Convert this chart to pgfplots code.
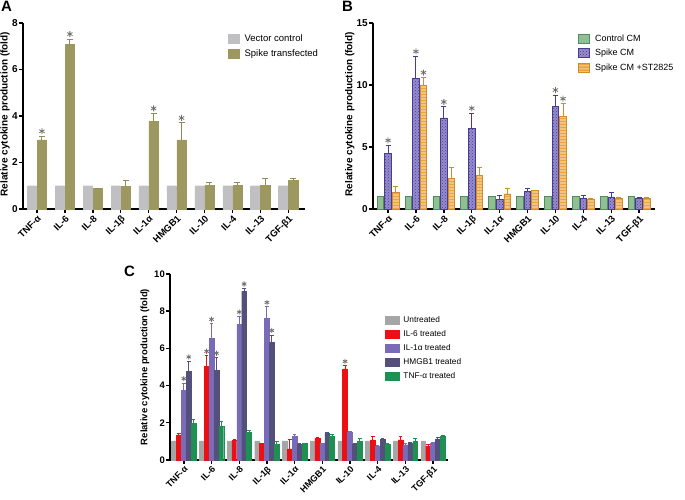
\documentclass[border=0pt]{standalone}
\usepackage{fontspec}
\setmainfont{Liberation Sans}
\usepackage{pgfplots}
\pgfplotsset{compat=1.18}
\usetikzlibrary{patterns,plotmarks}
\definecolor{vecgray}{RGB}{192,192,194}
\definecolor{olive1}{RGB}{157,152,95}
\definecolor{olived}{RGB}{145,140,85}
\definecolor{ctrlg}{RGB}{146,190,150}
\definecolor{ctrlgd}{RGB}{80,140,92}
\definecolor{purL}{RGB}{150,140,205}
\definecolor{purD}{RGB}{72,60,145}
\definecolor{orgF}{RGB}{236,165,62}
\definecolor{orgD}{RGB}{212,140,43}
\definecolor{cgray}{RGB}{166,166,166}
\definecolor{cred}{RGB}{236,16,20}
\definecolor{cpur}{RGB}{122,107,184}
\definecolor{cdark}{RGB}{84,80,124}
\definecolor{cgreen}{RGB}{30,145,82}
\definecolor{stargray}{RGB}{110,110,110}
\pgfdeclarepatterninherentlycolored{orgstripes}{\pgfpointorigin}{\pgfpoint{10pt}{3pt}}{\pgfpoint{10pt}{3pt}}{%
  \pgfsetfillcolor{orgF}\pgfpathrectangle{\pgfpointorigin}{\pgfpoint{10pt}{3pt}}\pgfusepath{fill}%
  \pgfsetfillcolor{white}\pgfpathrectangle{\pgfpoint{0pt}{2.2pt}}{\pgfpoint{10pt}{0.8pt}}\pgfusepath{fill}}
\pgfplotsset{
  gp/.style={
    scale only axis,
    clip=false,
    axis x line=bottom, axis y line=left,
    axis line style={-, line width=1.6pt},
    tick align=outside,
    major tick length=4pt,
    tick style={line width=1.4pt, black},
    xtick={0,...,9},
    xticklabels={TNF-α,IL-6,IL-8,IL-1β,IL-1α,HMGB1,IL-10,IL-4,IL-13,TGF-β1},
    xticklabel style={rotate=45, anchor=north east, inner sep=1pt, font=\bfseries\fontsize{9.5}{10}\selectfont},
    yticklabel style={font=\bfseries\fontsize{10}{11}\selectfont, inner sep=1pt},
    /pgf/number format/assume math mode=true,
    ylabel={Relative cytokine production (fold)},
    ylabel style={font=\bfseries\fontsize{10}{11}\selectfont, anchor=center},
    ymin=0,
    legend cell align=left,
  },
  star/.style={forget plot, only marks, mark=asterisk, mark size=3pt, color=stargray, line width=0.8pt},
  eb/.style n args={4}{error bars/.cd, y dir=plus, y explicit,
    error bar style={line width=#3, color=#1, xshift=#2},
    error mark options={line width=#3, color=#1, mark size=#4, rotate=90}},
}
\begin{document}
\begin{tikzpicture}
\path[use as bounding box] (0pt,0pt) rectangle (685pt,500pt);
\node[anchor=north west, inner sep=0pt, font=\bfseries\fontsize{15}{15}\selectfont] at (1pt,499pt) {A};
\node[anchor=north west, inner sep=0pt, font=\bfseries\fontsize{15}{15}\selectfont] at (342pt,499pt) {B};
\node[anchor=north west, inner sep=0pt, font=\bfseries\fontsize{15}{15}\selectfont] at (124pt,234pt) {C};
% ---------------- Panel A
\begin{axis}[gp, at={(23pt,291pt)}, anchor=south west, width=282pt, height=186pt,
  xmin=-0.5, xmax=9.6, ymax=8, ytick={0,2,4,6,8},
  ylabel style={at={(axis description cs:-0.064,0.51)}},
  legend style={draw=none, fill=none, at={(0.727,0.95)}, anchor=north west, inner sep=0pt, row sep=3pt,
    font=\fontsize{9.5}{11}\selectfont, /tikz/every odd column/.append style={column sep=3pt}},
  legend image code/.code={\draw[#1] (0pt,-4.5pt) rectangle (11pt,4.5pt);},
]
\addplot[ybar, bar width=9.3pt, bar shift=-5pt, fill=vecgray, draw=vecgray] coordinates {
(0,1) (1,1) (2,1) (3,1) (4,1) (5,1) (6,1) (7,1) (8,1) (9,1)};
\addlegendentry{Vector control}
\addplot[ybar, bar width=9.3pt, bar shift=5pt, fill=olive1, draw=olive1,
  eb={olived}{5pt}{1pt}{3pt}] coordinates {
(0,2.97) +- (0,0.16)
(1,7.07) +- (0,0.24)
(2,0.88) +- (0,0.02)
(3,0.97) +- (0,0.25)
(4,3.76) +- (0,0.35)
(5,2.97) +- (0,0.73)
(6,1.03) +- (0,0.10)
(7,1.03) +- (0,0.10)
(8,1.03) +- (0,0.29)
(9,1.22) +- (0,0.10)};
\addlegendentry{Spike transfected}
\addplot[star, mark options={xshift=5pt, yshift=5pt}] coordinates {(0,3.13) (1,7.31) (4,4.11) (5,3.70)};
\end{axis}
% ---------------- Panel B
\begin{axis}[gp, at={(373pt,291pt)}, anchor=south west, width=282pt, height=186pt,
  xmin=-0.54, xmax=9.57, ymax=15, ytick={0,5,10,15},
  ylabel style={at={(axis description cs:-0.082,0.51)}},
  legend style={draw=none, fill=none, at={(0.727,0.95)}, anchor=north west, inner sep=0pt, row sep=2.5pt,
    font=\fontsize{9}{10.5}\selectfont, /tikz/every odd column/.append style={column sep=3pt}},
  legend image code/.code={\draw[#1] (0pt,-4.5pt) rectangle (11pt,4.5pt);},
]
\addplot[ybar, bar width=6.6pt, bar shift=-7.6pt, fill=ctrlg, draw=ctrlgd, line width=0.8pt] coordinates {
(0,1) (1,1) (2,1) (3,1) (4,1) (5,1) (6,1) (7,1) (8,1) (9,1)};
\addlegendentry{Control CM}
\addplot[ybar, bar width=6.6pt, bar shift=0pt, fill=purL, draw=purD, line width=0.8pt,
  postaction={pattern=crosshatch dots, pattern color=purD},
  eb={purD}{0pt}{1pt}{2.5pt}] coordinates {
(0,4.46) +- (0,0.67)
(1,10.56) +- (0,1.74)
(2,7.34) +- (0,0.89)
(3,6.48) +- (0,1.24)
(4,0.75) +- (0,0.35)
(5,1.45) +- (0,0.24)
(6,8.28) +- (0,0.91)
(7,0.89) +- (0,0.19)
(8,0.97) +- (0,0.32)
(9,0.83) +- (0,0.08)};
\addlegendentry{Spike CM}
\addplot[ybar, bar width=6.6pt, bar shift=7.6pt, fill=orgF, draw=orgD, line width=0.8pt,
  postaction={pattern=orgstripes},
  eb={orgD}{7.6pt}{1pt}{2.5pt}] coordinates {
(0,1.37) +- (0,0.46)
(1,9.95) +- (0,0.65)
(2,2.47) +- (0,0.84)
(3,2.74) +- (0,0.57)
(4,1.21) +- (0,0.48)
(5,1.48) +- (0,0.05)
(6,7.45) +- (0,1.04)
(7,0.81) +- (0,0.03)
(8,0.86) +- (0,0.08)
(9,0.86) +- (0,0.05)};
\addlegendentry{Spike CM +ST2825}
\addplot[star, mark options={xshift=0pt, yshift=5pt}] coordinates {(0,5.13) (1,12.30) (2,8.23) (3,7.72) (6,9.19)};
\addplot[star, mark options={xshift=7.6pt, yshift=5pt}] coordinates {(1,10.60) (6,8.49)};
\end{axis}
% ---------------- Panel C
\begin{axis}[gp, at={(170pt,40pt)}, anchor=south west, width=278pt, height=186pt,
  xmin=-0.5, xmax=9.54, ymax=10, ytick={0,2,4,6,8,10},
  ylabel style={at={(axis description cs:-0.09,0.5)}, font=\bfseries\fontsize{9.5}{11}\selectfont},
  xticklabel style={font=\bfseries\fontsize{9}{10}\selectfont},
  yticklabel style={font=\bfseries\fontsize{9.5}{11}\selectfont},
  legend style={draw=none, fill=none, at={(0.773,0.785)}, anchor=north west, inner sep=0pt, row sep=2.5pt,
    font=\fontsize{8.3}{9.5}\selectfont, /tikz/every odd column/.append style={column sep=2pt}},
  legend image code/.code={\draw[#1] (0pt,-4pt) rectangle (14pt,4pt);},
]
\addplot[ybar, bar width=4.8pt, bar shift=-9.8pt, fill=cgray, draw=cgray] coordinates {
(0,1.03) (1,1.03) (2,1.03) (3,1.03) (4,1.03) (5,1.03) (6,1.03) (7,1.03) (8,1.03) (9,1.03)};
\addlegendentry{Untreated}
\addplot[ybar, bar width=4.8pt, bar shift=-4.9pt, fill=cred, draw=cred,
  eb={cred}{-4.9pt}{0.9pt}{1.8pt}] coordinates {
(0,1.35) +- (0,0.06)
(1,5.05) +- (0,0.55)
(2,1.06) +- (0,0.05)
(3,0.88) +- (0,0.03)
(4,0.60) +- (0,0.48)
(5,1.17) +- (0,0.05)
(6,4.90) +- (0,0.16)
(7,1.08) +- (0,0.18)
(8,1.08) +- (0,0.20)
(9,0.76) +- (0,0.10)};
\addlegendentry{IL-6 treated}
\addplot[ybar, bar width=4.8pt, bar shift=0pt, fill=cpur, draw=cpur,
  eb={cpur}{0pt}{0.9pt}{1.8pt}] coordinates {
(0,3.75) +- (0,0.38)
(1,6.54) +- (0,0.78)
(2,7.30) +- (0,0.41)
(3,7.60) +- (0,0.63)
(4,1.28) +- (0,0.12)
(5,0.88) +- (0,0.03)
(6,1.48) +- (0,0.05)
(7,0.76) +- (0,0.03)
(8,0.81) +- (0,0.09)
(9,0.90) +- (0,0.03)};
\addlegendentry{IL-1α treated}
\addplot[ybar, bar width=4.8pt, bar shift=4.9pt, fill=cdark, draw=cdark,
  eb={cdark}{4.9pt}{0.9pt}{1.8pt}] coordinates {
(0,4.76) +- (0,0.54)
(1,4.83) +- (0,0.67)
(2,9.06) +- (0,0.16)
(3,6.34) +- (0,0.38)
(4,0.86) +- (0,0.03)
(5,1.44) +- (0,0.06)
(6,0.86) +- (0,0.04)
(7,1.10) +- (0,0.07)
(8,0.90) +- (0,0.03)
(9,1.13) +- (0,0.07)};
\addlegendentry{HMGB1 treated}
\addplot[ybar, bar width=4.8pt, bar shift=9.8pt, fill=cgreen, draw=cgreen,
  eb={cgreen}{9.8pt}{0.9pt}{1.8pt}] coordinates {
(0,1.96) +- (0,0.22)
(1,1.80) +- (0,0.29)
(2,1.48) +- (0,0.10)
(3,0.86) +- (0,0.13)
(4,0.88) +- (0,0.03)
(5,1.30) +- (0,0.05)
(6,1.00) +- (0,0.15)
(7,0.86) +- (0,0.05)
(8,1.00) +- (0,0.17)
(9,1.26) +- (0,0.04)};
\addlegendentry{TNF-α treated}
\addplot[star, mark size=2.6pt, mark options={xshift=-4.9pt, yshift=4.5pt}] coordinates {(1,5.60) (6,5.06)};
\addplot[star, mark size=2.6pt, mark options={xshift=0pt, yshift=4.5pt}] coordinates {(0,4.13) (1,7.32) (2,7.71) (3,8.23)};
\addplot[star, mark size=2.6pt, mark options={xshift=4.9pt, yshift=4.5pt}] coordinates {(0,5.30) (1,5.50) (2,9.22) (3,6.72)};
\end{axis}
\end{tikzpicture}
\end{document}
